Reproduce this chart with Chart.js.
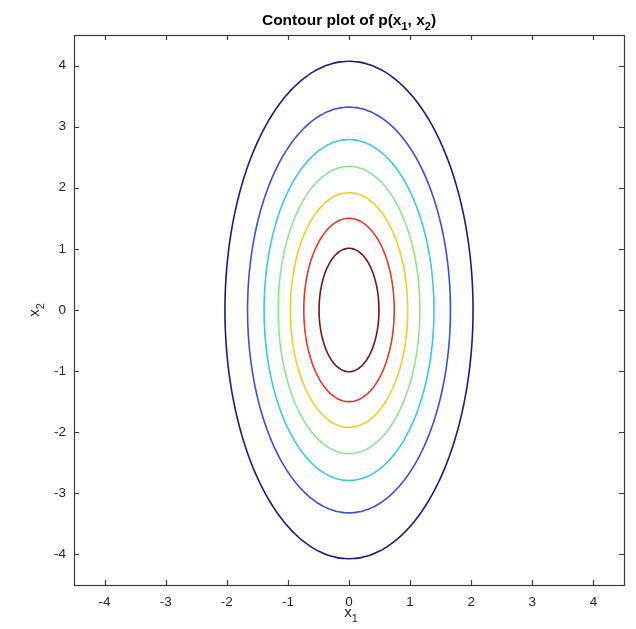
<!DOCTYPE html>
<html>
<head>
<meta charset="utf-8">
<script src="https://cdn.jsdelivr.net/npm/chart.js@4/dist/chart.umd.min.js"></script>
<style>
  html, body { margin: 0; padding: 0; background: #ffffff; }
  #wrap { width: 636px; height: 629px; }
</style>
</head>
<body>
<div id="wrap"><canvas id="c" width="636" height="629"></canvas></div>
<script>
// Contour levels of p(x1, x2), outermost to innermost: semi-axes of each ellipse
const semiAxisX1 = [2.03, 1.66, 1.39, 1.16, 0.96, 0.74, 0.49];
const semiAxisX2 = [4.07, 3.32, 2.79, 2.35, 1.92, 1.50, 1.01];
const levelColors = ['#1b1b88', '#3452dc', '#36cbe8', '#8ae98a', '#f7cb24', '#e53a26', '#761616'];

// Axis tick values
const xTicks = [-4, -3, -2, -1, 0, 1, 2, 3, 4];
const yTicks = [-4, -3, -2, -1, 0, 1, 2, 3, 4];

const FONT = '"Liberation Sans", Arial, Helvetica, sans-serif';
const AXIS_COLOR = '#3c3c3c';
const TEXT_COLOR = '#262626';

// Trace one closed contour from its two semi-axes
function contourPoints(a, b) {
  const pts = [];
  const n = 180;
  for (let i = 0; i <= n; i++) {
    const t = (i / n) * 2 * Math.PI;
    pts.push({ x: a * Math.cos(t), y: b * Math.sin(t) });
  }
  return pts;
}

const datasets = semiAxisX1.map((a, i) => ({
  data: contourPoints(a, semiAxisX2[i]),
  showLine: true,
  borderColor: levelColors[i],
  borderWidth: 1.6,
  pointRadius: 0,
  fill: false,
  tension: 0.1
}));

// Text with subscripts: parts are [text, isSubscript]
function drawRich(ctx, parts, x, y, size, weight) {
  const subSize = Math.round(size * 0.72);
  const widths = parts.map(([t, sub]) => {
    ctx.font = `${weight} ${sub ? subSize : size}px ${FONT}`;
    return ctx.measureText(t).width;
  });
  const total = widths.reduce((s, w) => s + w, 0);
  let cx = x - total / 2;
  parts.forEach(([t, sub], i) => {
    ctx.font = `${weight} ${sub ? subSize : size}px ${FONT}`;
    ctx.fillText(t, cx, sub ? y + size * 0.3 : y);
    cx += widths[i];
  });
}

const framePlugin = {
  id: 'frame',
  afterDraw(chart) {
    const { ctx, chartArea: a, scales: { x, y } } = chart;
    ctx.save();
    ctx.strokeStyle = AXIS_COLOR;
    ctx.lineWidth = 1.2;
    ctx.strokeRect(a.left + 0.5, a.top + 0.5, a.right - a.left, a.bottom - a.top);
    const tl = 5;
    ctx.beginPath();
    x.ticks.forEach(t => {
      const px = Math.round(x.getPixelForValue(t.value)) + 0.5;
      ctx.moveTo(px, a.bottom); ctx.lineTo(px, a.bottom - tl);
      ctx.moveTo(px, a.top); ctx.lineTo(px, a.top + tl);
    });
    y.ticks.forEach(t => {
      const py = Math.round(y.getPixelForValue(t.value)) + 0.5;
      ctx.moveTo(a.left, py); ctx.lineTo(a.left + tl, py);
      ctx.moveTo(a.right, py); ctx.lineTo(a.right - tl, py);
    });
    ctx.stroke();

    ctx.fillStyle = '#000000';
    ctx.textBaseline = 'alphabetic';
    ctx.textAlign = 'left';
    const midX = (a.left + a.right) / 2;
    drawRich(ctx, [['Contour plot of p(x', false], ['1', true], [', x', false], ['2', true], [')', false]],
      midX, 25, 15.5, 'bold');

    ctx.fillStyle = TEXT_COLOR;
    drawRich(ctx, [['x', false], ['1', true]], midX + 2, 617, 15, 'normal');

    ctx.save();
    ctx.translate(39, (a.top + a.bottom) / 2);
    ctx.rotate(-Math.PI / 2);
    drawRich(ctx, [['x', false], ['2', true]], 0, 0, 15, 'normal');
    ctx.restore();
    ctx.restore();
  }
};

new Chart(document.getElementById('c'), {
  type: 'scatter',
  data: { datasets },
  plugins: [framePlugin],
  options: {
    responsive: false,
    animation: false,
    layout: { padding: { top: 35, right: 12, left: 0, bottom: 0 } },
    plugins: { legend: { display: false }, tooltip: { enabled: false }, title: { display: false } },
    scales: {
      x: {
        type: 'linear',
        min: -4.5,
        max: 4.5,
        grid: { display: false, drawTicks: false },
        border: { display: false },
        ticks: { color: TEXT_COLOR, font: { family: FONT, size: 13.5 }, padding: 9 },
        afterBuildTicks: s => { s.ticks = xTicks.map(v => ({ value: v })); },
        afterFit: s => { s.height = 44; }
      },
      y: {
        type: 'linear',
        min: -4.5,
        max: 4.5,
        grid: { display: false, drawTicks: false },
        border: { display: false },
        ticks: { color: TEXT_COLOR, font: { family: FONT, size: 13.5 }, padding: 8 },
        afterBuildTicks: s => { s.ticks = yTicks.map(v => ({ value: v })); },
        afterFit: s => { s.width = 74; }
      }
    }
  }
});
</script>
</body>
</html>
